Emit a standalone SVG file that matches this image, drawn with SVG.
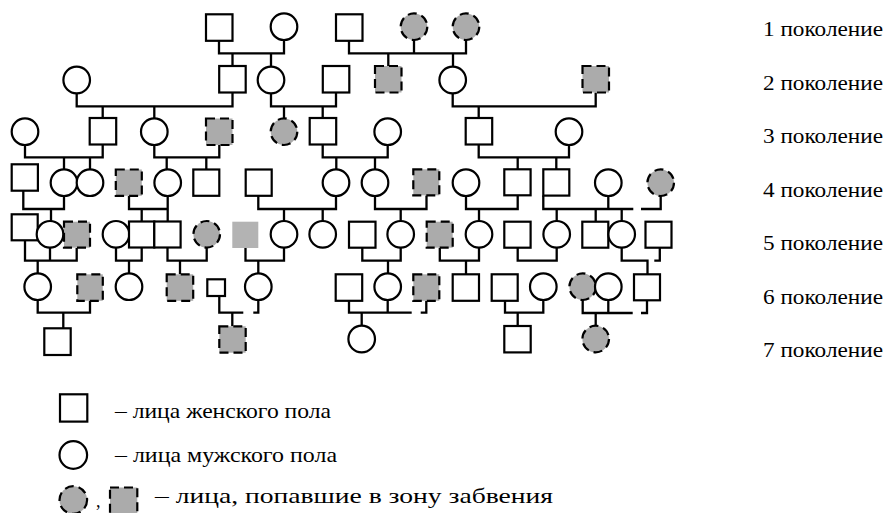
<svg xmlns="http://www.w3.org/2000/svg" width="887" height="513" viewBox="0 0 887 513">
<style>
.n{fill:#fff;stroke:#000;stroke-width:2.2}
.g{fill:#ababab;stroke:#000;stroke-width:2.2;stroke-dasharray:9 5}
.gl{fill:#b3b3b3;stroke:none}
.c{fill:none;stroke:#000;stroke-width:2.3}
.t{font-family:"Liberation Serif","Times New Roman",serif;fill:#000}
.gen{font-size:20px}
.leg{font-size:22px}
</style>
<rect width="887" height="513" fill="#fff"/>
<g id="connectors" class="c">
<path d="M219,40.7V53.3H284V40M232.5,53.3V66M271,53.3V66.7"/>
<path d="M349,40.7V53.3H466V40M414,40V53.3M388.3,53.3V66M453,53.3V66.7"/>
<path d="M76.7,93.3V106.3H232.5V92.5M102.7,106.3V118M154.3,106.3V118.4"/>
<path d="M271,93.3V106.3H336V92.5M284,106.3V118.4M322.7,106.3V118"/>
<path d="M452.7,93.3V106.3H595.7V92.5M478.7,106.3V118"/>
<path d="M25,145V157.3H102.7V144.5M64,157.3V169.4M90,157.3V169.4"/>
<path d="M154.3,145V157.3H219.3V145M166.7,157.3V169.4M206.3,157.3V169.5"/>
<path d="M322.7,144.5V157.3H387.7V145M336.3,157.3V169.4M375,157.3V169.4"/>
<path d="M478.7,144.5V157.3H569V145M517.7,157.3V169.3M556.3,157.3V169.3"/>
<path d="M23.3,190.7V209H64V196M51,209V221"/>
<path d="M129,195.9V209H167.7V196M141.7,209V221.5M167.7,209V221.5"/>
<path d="M258.3,195.9V209H336V196M284,209V221M322.7,209V221"/>
<path d="M375,196V209H426.5V195.6M400.7,209V221"/>
<path d="M466,196V209H517.7V195.6M479,209V221"/>
<path d="M543.3,195.6V209H633.3M608.3,196V209M556.7,209V221M595.7,209V221.7M621.7,209V221"/>
<path d="M641,209H660.7V196"/>
<path d="M25,240.6V260.7H76.7V248M50,247.6V260.7M37.7,260.7V273.4"/>
<path d="M116,247.6V260.7H141.7V247.8M129,260.7V273.4"/>
<path d="M167.5,247.8V260.7H206.7V247.6M180,260.7V274.3"/>
<path d="M245.5,248V260.7H284V247.6M258.3,260.7V273.4"/>
<path d="M362.3,248V260.7H400.7V247.6M388,260.7V273.4"/>
<path d="M439.8,248V260.7H479V247.6M466,260.7V274.3"/>
<path d="M517.7,248V260.7H556.7V247.6"/>
<path d="M621.7,247.6V260.7H647.5V274.3M654.3,260.7H659.8V248"/>
<path d="M37.7,300V312.7H90V300.8M63.3,312.7V328.3"/>
<path d="M219.3,296V312.7H243.3M253.3,312.7H258.3V300M232.3,312.7V326.3"/>
<path d="M349,300.8V312.7H411.7M387.7,300V312.7M361.7,312.7V325.7M420.7,312.7H426.3V300.8"/>
<path d="M505,300.8V312.7H543.3V300M517.7,312.7V326"/>
<path d="M582.7,300V313H632.7M608.3,300V313M595.7,313V325.7M641,313H647V300.8"/>
</g>
<g id="gen1">
<rect id="g1-1" class="n" x="206" y="14.3" width="26.5" height="26.5"/>
<circle id="g1-2" class="n" cx="284" cy="26.7" r="13.3"/>
<rect id="g1-3" class="n" x="336" y="14.3" width="26.5" height="26.5"/>
<circle id="g1-4" class="g" cx="414" cy="26.7" r="13.3"/>
<circle id="g1-5" class="g" cx="466" cy="26.7" r="13.3"/>
</g>
<g id="gen2">
<circle id="g2-1" class="n" cx="76.7" cy="80" r="13.3"/>
<rect id="g2-2" class="n" x="219.2" y="66" width="26.5" height="26.5"/>
<circle id="g2-3" class="n" cx="271" cy="80" r="13.3"/>
<rect id="g2-4" class="n" x="322.8" y="66" width="26.5" height="26.5"/>
<rect id="g2-5" class="g" x="375" y="66" width="26.5" height="26.5"/>
<circle id="g2-6" class="n" cx="452.7" cy="80" r="13.3"/>
<rect id="g2-7" class="g" x="582.5" y="66" width="26.5" height="26.5"/>
</g>
<g id="gen3">
<circle id="g3-1" class="n" cx="25" cy="131.7" r="13.3"/>
<rect id="g3-2" class="n" x="89.7" y="118" width="26.5" height="26.5"/>
<circle id="g3-3" class="n" cx="154.3" cy="131.7" r="13.3"/>
<rect id="g3-4" class="g" x="206" y="118.5" width="26.5" height="26.5"/>
<circle id="g3-5" class="g" cx="284" cy="131.7" r="13.3"/>
<rect id="g3-6" class="n" x="309.7" y="118" width="26.5" height="26.5"/>
<circle id="g3-7" class="n" cx="387.7" cy="131.7" r="13.3"/>
<rect id="g3-8" class="n" x="465.7" y="118" width="26.5" height="26.5"/>
<circle id="g3-9" class="n" cx="569" cy="131.7" r="13.3"/>
</g>
<g id="gen4">
<rect id="g4-1" class="n" x="11.7" y="164.3" width="26.2" height="26.4"/>
<circle id="g4-2" class="n" cx="64" cy="182.7" r="13.3"/>
<circle id="g4-3" class="n" cx="90" cy="182.7" r="13.3"/>
<rect id="g4-4" class="g" x="115.8" y="169.5" width="26" height="26.3"/>
<circle id="g4-5" class="n" cx="167.7" cy="182.7" r="13.3"/>
<rect id="g4-6" class="n" x="193.3" y="169.5" width="26" height="26.3"/>
<rect id="g4-7" class="n" x="245.7" y="169.5" width="26" height="26.3"/>
<circle id="g4-8" class="n" cx="336" cy="182.7" r="13.3"/>
<circle id="g4-9" class="n" cx="375" cy="182.7" r="13.3"/>
<rect id="g4-10" class="g" x="413.3" y="169.3" width="26" height="26"/>
<circle id="g4-11" class="n" cx="466" cy="182.7" r="13.3"/>
<rect id="g4-12" class="n" x="504.3" y="169.3" width="26.3" height="26"/>
<rect id="g4-13" class="n" x="543.3" y="169.3" width="26" height="26.3"/>
<circle id="g4-14" class="n" cx="608.3" cy="182.7" r="13.3"/>
<circle id="g4-15" class="g" cx="660.7" cy="182.7" r="13.3"/>
</g>
<g id="gen5">
<rect id="g5-1" class="n" x="11.7" y="214.3" width="26" height="26"/>
<circle id="g5-2" class="n" cx="50" cy="234.3" r="13.3"/>
<rect id="g5-3" class="g" x="64" y="221.7" width="26" height="26"/>
<circle id="g5-4" class="n" cx="116" cy="234.3" r="13.3"/>
<rect id="g5-5" class="n" x="129" y="221.5" width="25.3" height="26"/>
<rect id="g5-6" class="n" x="154.3" y="221.5" width="26.3" height="26"/>
<circle id="g5-7" class="g" cx="206.7" cy="234.3" r="13.3"/>
<rect id="g5-8" class="gl" x="232.3" y="221.7" width="26" height="26.3"/>
<circle id="g5-9" class="n" cx="284" cy="234.3" r="13.3"/>
<circle id="g5-10" class="n" cx="322.7" cy="234.3" r="13.3"/>
<rect id="g5-11" class="n" x="349" y="221.7" width="26.5" height="26"/>
<circle id="g5-12" class="n" cx="400.7" cy="234.3" r="13.3"/>
<rect id="g5-13" class="g" x="426.7" y="221.7" width="26" height="26"/>
<circle id="g5-14" class="n" cx="479" cy="234.3" r="13.3"/>
<rect id="g5-15" class="n" x="504.3" y="221.7" width="26.3" height="26"/>
<circle id="g5-16" class="n" cx="556.7" cy="234.3" r="13.3"/>
<rect id="g5-17" class="n" x="582.3" y="221.7" width="26" height="26"/>
<circle id="g5-18" class="n" cx="621.7" cy="234.3" r="13.3"/>
<rect id="g5-19" class="n" x="645.5" y="221.7" width="26" height="26"/>
</g>
<g id="gen6">
<circle id="g6-1" class="n" cx="37.7" cy="286.7" r="13.3"/>
<rect id="g6-2" class="g" x="77.3" y="274.3" width="25.5" height="26.5"/>
<circle id="g6-3" class="n" cx="129" cy="286.7" r="13.3"/>
<rect id="g6-4" class="g" x="166.7" y="274.3" width="26.5" height="26.5"/>
<rect id="g6-5" class="n" x="207.3" y="279.3" width="17.7" height="16.7"/>
<circle id="g6-6" class="n" cx="258.3" cy="286.7" r="13.3"/>
<rect id="g6-7" class="n" x="335.7" y="274.3" width="26.5" height="26.5"/>
<circle id="g6-8" class="n" cx="387.7" cy="286.7" r="13.3"/>
<rect id="g6-9" class="g" x="413.3" y="274.3" width="26" height="26.5"/>
<rect id="g6-10" class="n" x="452.7" y="274.3" width="26.3" height="26.5"/>
<rect id="g6-11" class="n" x="491.7" y="274.3" width="26" height="26.5"/>
<circle id="g6-12" class="n" cx="543.3" cy="286.7" r="13.3"/>
<circle id="g6-13" class="g" cx="582.7" cy="286.7" r="13.3"/>
<circle id="g6-14" class="n" cx="608.3" cy="286.7" r="13.3"/>
<rect id="g6-15" class="n" x="634" y="274.3" width="26" height="26"/>
</g>
<g id="gen7">
<rect id="g7-1" class="n" x="44.3" y="328.3" width="26.4" height="26.7"/>
<rect id="g7-2" class="g" x="219.3" y="326.3" width="26.4" height="26.4"/>
<circle id="g7-3" class="n" cx="361.7" cy="339" r="13.3"/>
<rect id="g7-4" class="n" x="504.3" y="326" width="26.4" height="26.4"/>
<circle id="g7-5" class="g" cx="595.7" cy="339" r="13.3"/>
</g>
<g id="labels" class="t gen">
<text x="763" y="36" textLength="120" lengthAdjust="spacingAndGlyphs">1 поколение</text>
<text x="763" y="89.5" textLength="120" lengthAdjust="spacingAndGlyphs">2 поколение</text>
<text x="763" y="143" textLength="120" lengthAdjust="spacingAndGlyphs">3 поколение</text>
<text x="763" y="196.5" textLength="120" lengthAdjust="spacingAndGlyphs">4 поколение</text>
<text x="763" y="250" textLength="120" lengthAdjust="spacingAndGlyphs">5 поколение</text>
<text x="763" y="303.5" textLength="120" lengthAdjust="spacingAndGlyphs">6 поколение</text>
<text x="763" y="357" textLength="120" lengthAdjust="spacingAndGlyphs">7 поколение</text>
</g>
<g id="legend">
<rect class="n" x="60" y="394.3" width="27.3" height="27.3"/>
<circle class="n" cx="73.3" cy="455" r="13.8"/>
<circle class="g" cx="73.3" cy="500" r="13.8"/>
<rect class="g" x="110" y="487.5" width="27.3" height="27.3"/>
<g class="t leg">
<text x="96" y="507" font-size="18">,</text>
<text x="115" y="418.3" textLength="216" lengthAdjust="spacingAndGlyphs">– лица женского пола</text>
<text x="115" y="461.7" textLength="222" lengthAdjust="spacingAndGlyphs">– лица мужского пола</text>
<text x="155" y="503.3" textLength="398" lengthAdjust="spacingAndGlyphs">– лица, попавшие в зону забвения</text>
</g>
</g>
</svg>
